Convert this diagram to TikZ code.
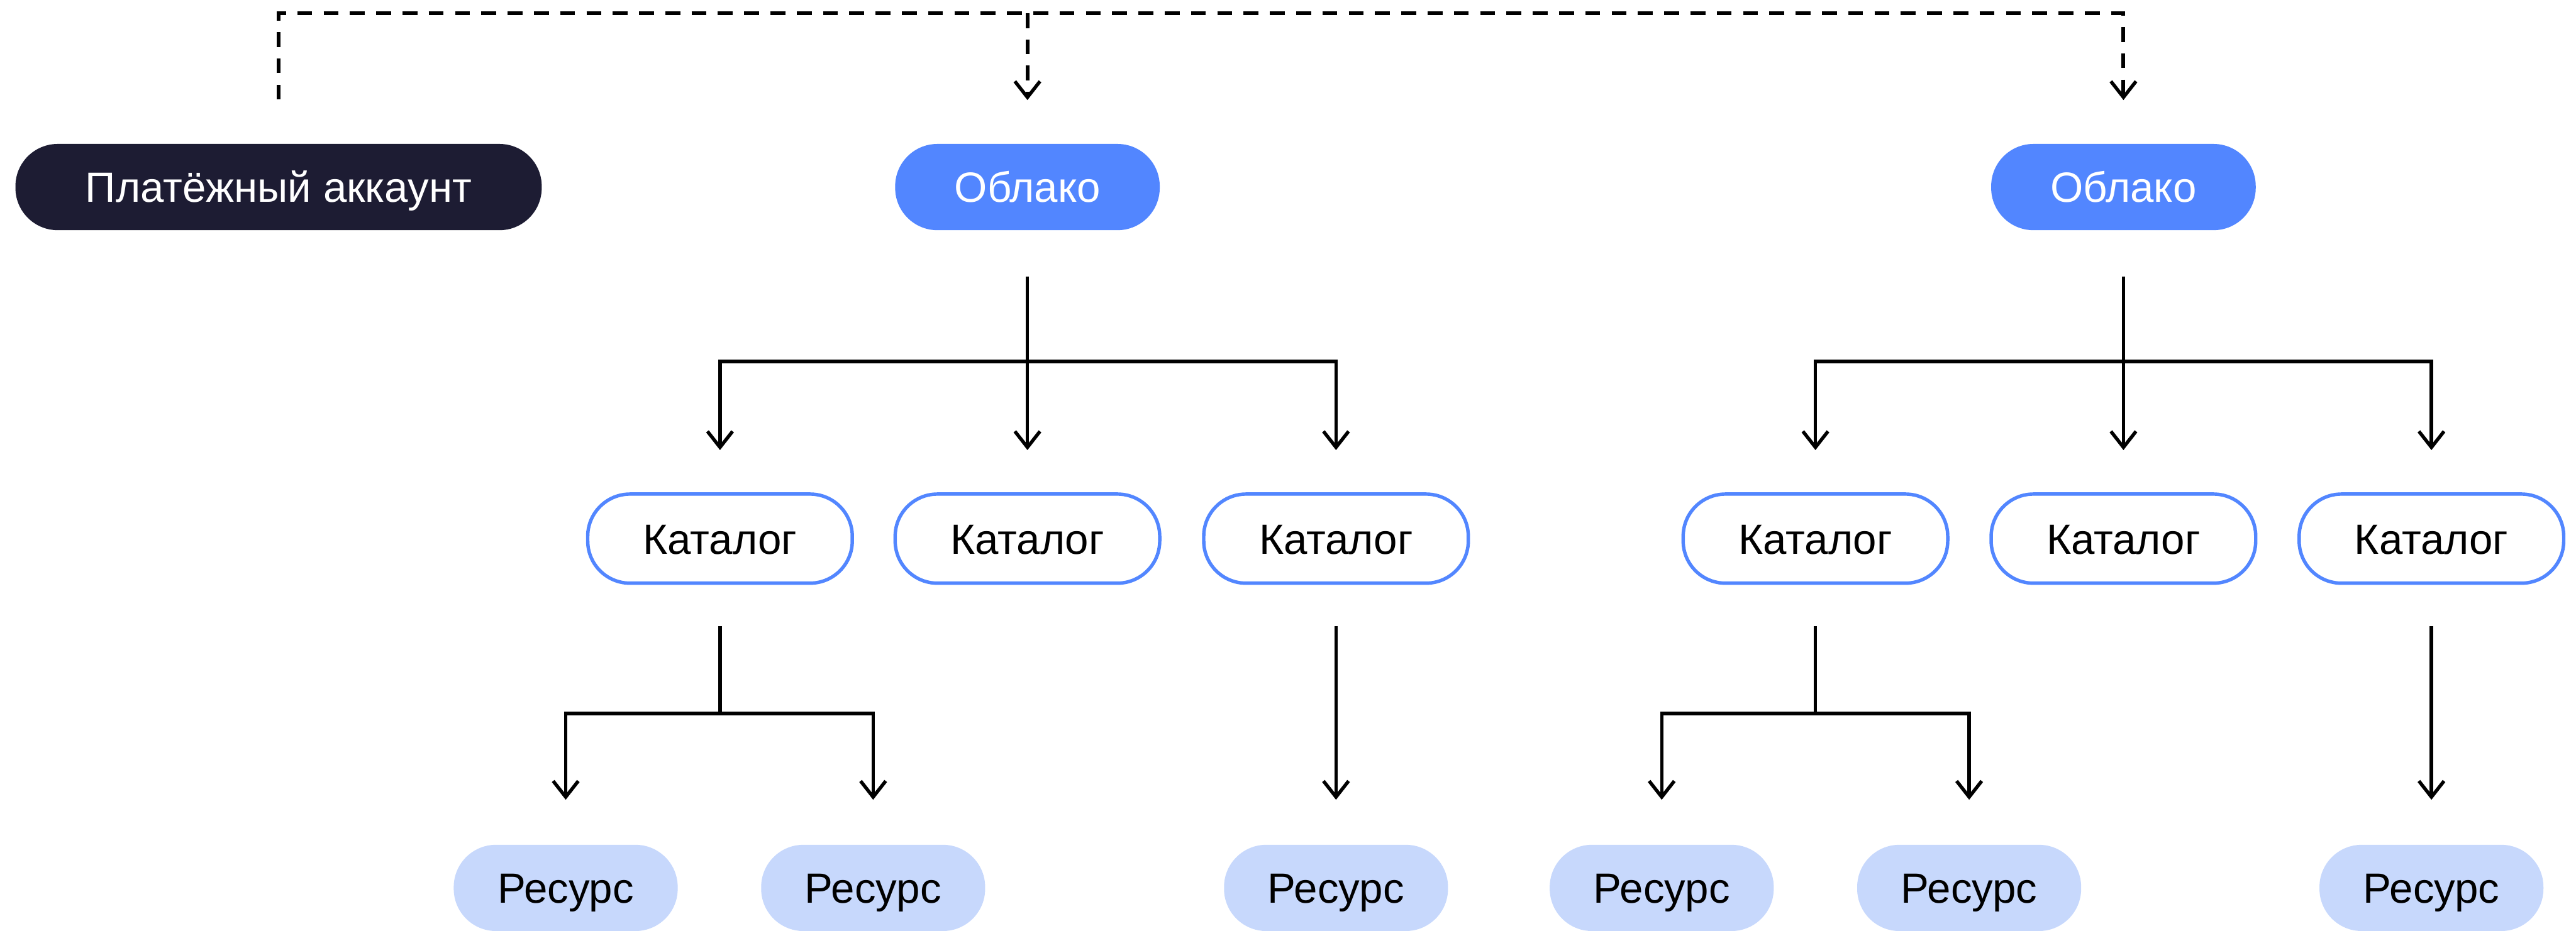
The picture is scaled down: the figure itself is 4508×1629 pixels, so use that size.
\documentclass[tikz,border=0pt]{standalone}
\usepackage{fontspec}
\setmainfont{Liberation Sans}
\usetikzlibrary{arrows.meta}

\definecolor{navy}{HTML}{1D1C33}
\definecolor{cloudblue}{HTML}{5286FF}
\definecolor{reslight}{HTML}{C7D8FC}

\begin{document}
\begin{tikzpicture}[x=0.25pt, y=-0.25pt,
  pill/.style={rectangle, rounded corners=18.5pt, inner sep=0pt,
    minimum height=37.75pt, text height=13.3pt, text depth=0pt,
    font=\fontsize{18.5pt}{22pt}\selectfont},
  account/.style={pill, fill=navy, text=white, minimum width=230.25pt},
  cloudbox/.style={pill, fill=cloudblue, text=white, minimum width=115.75pt},
  catalogbox/.style={pill, draw=cloudblue, line width=1.5pt, fill=white,
    text=black, minimum width=115.75pt, minimum height=39pt},
  resbox/.style={pill, fill=reslight, text=black, minimum width=98pt},
  tip/.style={-{Straight Barb[length=7pt, width=11pt, line width=1.5pt]}},
  link/.style={line width=1.5pt, black},
  dashlink/.style={line width=1.65pt, black, dash pattern=on 6.5pt off 5pt},
]
\useasboundingbox (0,0) rectangle (4508,1629);

% top level
\node[account]  (pay) at (487.5,327.5) {Платёжный аккаунт};
\node[cloudbox] (cl1) at (1798,327.5) {Облако};
\node[cloudbox] (cl2) at (3716,327.5) {Облако};

% catalogs
\node[catalogbox] (c11) at (1260,943) {Каталог};
\node[catalogbox] (c12) at (1798,943) {Каталог};
\node[catalogbox] (c13) at (2338,943) {Каталог};
\node[catalogbox] (c21) at (3177,943) {Каталог};
\node[catalogbox] (c22) at (3716,943) {Каталог};
\node[catalogbox] (c23) at (4255,943) {Каталог};

% resources
\node[resbox] (r111) at (990,1554.5) {Ресурс};
\node[resbox] (r112) at (1528,1554.5) {Ресурс};
\node[resbox] (r131) at (2338,1554.5) {Ресурс};
\node[resbox] (r211) at (2908,1554.5) {Ресурс};
\node[resbox] (r212) at (3446,1554.5) {Ресурс};
\node[resbox] (r231) at (4255,1554.5) {Ресурс};

% dashed bus from the billing account to the clouds
\coordinate (bus) at (2600,23);
\draw[dashlink, tip, shorten <=19.25pt, shorten >=19pt]
  (pay.north) |- (bus) -| (cl2.north);
\draw[dashlink, tip, shorten >=19pt] (cl1.north |- bus) -- (cl1.north);

% cloud -> catalogs
\foreach \c/\a/\b/\m in {cl1/c11/c13/c12, cl2/c21/c23/c22} {
  \coordinate (\c-fork) at (\c |- 0,633);
  \draw[link, tip, shorten <=20pt, shorten >=18.5pt] (\c.south) -- (\m.north);
  \draw[link, tip, shorten >=18.5pt] (\c-fork) -| (\a.north);
  \draw[link, tip, shorten >=18.5pt] (\c-fork) -| (\b.north);
}

% catalogs -> resources
\foreach \c/\a/\b in {c11/r111/r112, c21/r211/r212} {
  \coordinate (\c-fork) at (\c |- 0,1249);
  \draw[link, shorten <=18pt] (\c.south) -- (\c-fork);
  \draw[link, tip, shorten >=19.5pt] (\c-fork) -| (\a.north);
  \draw[link, tip, shorten >=19.5pt] (\c-fork) -| (\b.north);
}
\draw[link, tip, shorten <=18pt, shorten >=19.5pt] (c13.south) -- (r131.north);
\draw[link, tip, shorten <=18pt, shorten >=19.5pt] (c23.south) -- (r231.north);
\end{tikzpicture}
\end{document}
